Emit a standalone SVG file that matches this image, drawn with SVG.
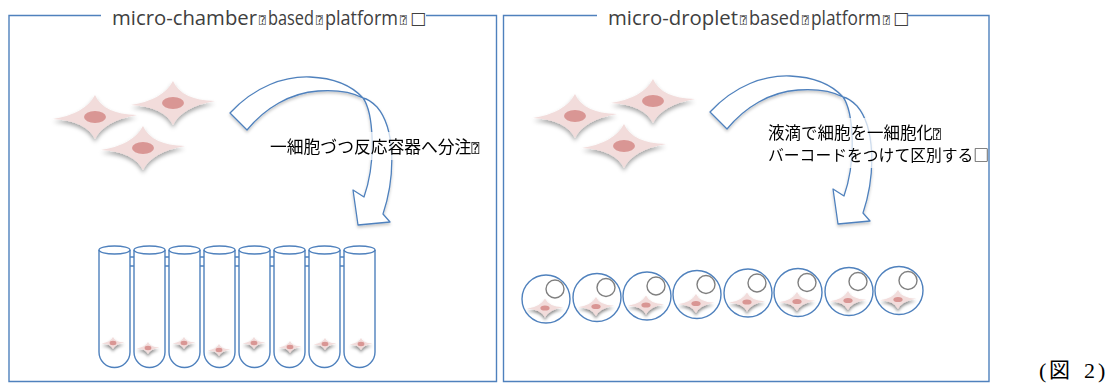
<svg xmlns="http://www.w3.org/2000/svg" xmlns:xlink="http://www.w3.org/1999/xlink" width="1119" height="385" viewBox="0 0 1119 385">
  <style>
    .frame { fill: none; stroke: #4f81bd; stroke-width: 1.4; }
    .title { font-family: "Open Sans", "DejaVu Sans", sans-serif; font-size: 20px; fill: #404040; }
    .q { font-family: "DejaVu Sans Mono", "DejaVu Sans", monospace; font-size: 11px; }
    .sq { font-family: "DejaVu Sans", sans-serif; font-size: 17px; }
    .jp { font-family: "Noto Sans CJK JP", sans-serif; fill: #000; }
    .qj { font-family: "DejaVu Sans Mono", "DejaVu Sans", monospace; font-size: 13px; fill: #000; }
    .blue { fill: none; stroke: #4f81bd; stroke-width: 1.4; }
    .arrow { fill: #fff; stroke: #4f81bd; stroke-width: 1.3; stroke-linejoin: round; }
    .bead { fill: none; stroke: #7f7f7f; stroke-width: 1.4; }
    .star { fill: #f2dcdb; }
    .nuc { fill: #d99694; }
    .txtbg { fill: #fff; opacity: 0.72; }
    .cap { font-size: 22px; fill: #000; }
  </style>
  <defs>
    <filter id="shL" x="-30%" y="-40%" width="160%" height="200%">
      <feDropShadow dx="0" dy="3" stdDeviation="2" flood-color="#000" flood-opacity="0.35"/>
    </filter>
    <filter id="shS" x="-40%" y="-60%" width="180%" height="260%">
      <feDropShadow dx="0" dy="2.5" stdDeviation="1.6" flood-color="#000" flood-opacity="0.45"/>
    </filter>
    <filter id="shA" x="-20%" y="-20%" width="140%" height="140%">
      <feDropShadow dx="0" dy="2" stdDeviation="1.5" flood-color="#000" flood-opacity="0.22"/>
    </filter>
    <!-- four-pointed cell body, 84 x 44 -->
    <path id="starBody" d="M-42,2 Q-10,-3 0,-22 Q8,-3 42,-2 Q9,4 0,22 Q-9,4 -42,2 Z"/>
    <g id="cellL">
      <g filter="url(#shL)"><use xlink:href="#starBody" class="star"/></g>
      <ellipse class="nuc" cx="0" cy="0" rx="11" ry="6"/>
    </g>
    <g id="cellM">
      <g filter="url(#shS)"><use xlink:href="#starBody" class="star" transform="scale(0.43)"/></g>
      <ellipse class="nuc" cx="0" cy="0" rx="4.6" ry="2.6"/>
    </g>
    <g id="cellS">
      <g filter="url(#shS)"><use xlink:href="#starBody" class="star" transform="scale(0.27)"/></g>
      <ellipse class="nuc" cx="0" cy="0" rx="3.4" ry="2.2"/>
    </g>
    <!-- curved arrow with the twisted shaft -->
    <path id="curvedArrow" class="arrow" d="M230,113 C255,86 285,76 310,77 C335,78 352,86 363,98 C373,112 377,160 364,197 L353,190 L358,225 L390,222 L383,214 C396,175 395,128 377,107 C372,102 368,99 363,98 C348,90 332,90 318,91 C290,93 265,108 247,130 Z"/>
    <!-- tube with rounded bottom, 31 wide -->
    <g id="tube">
      <path class="blue" d="M0,250 L0,352 A15.5,15.5 0 0 0 31,352 L31,250"/>
      <ellipse class="blue" cx="15.5" cy="250" rx="15.5" ry="4"/>
    </g>
    <g id="droplet">
      <circle class="blue" cx="0" cy="0" r="24"/>
      <circle class="bead" cx="9" cy="-10" r="9"/>
      <use xlink:href="#cellM" x="-1" y="9"/>
    </g>
  </defs>

  <!-- left panel -->
  <g id="panel-chamber">
    <path class="frame" d="M101,15.5 L9,15.5 L9,381.5 L496.5,381.5 L496.5,15.5 L426,15.5"/>
    <text class="title" y="25"><tspan x="112" textLength="145" lengthAdjust="spacingAndGlyphs">micro-chamber</tspan><tspan class="q" x="259" dy="-1">⍰</tspan><tspan x="268" dy="1" textLength="46" lengthAdjust="spacingAndGlyphs">based</tspan><tspan class="q" x="316" dy="-1">⍰</tspan><tspan x="325" dy="1" textLength="73" lengthAdjust="spacingAndGlyphs">platform</tspan><tspan class="q" x="400" dy="-1">⍰</tspan><tspan class="sq" x="410">□</tspan></text>
  </g>

  <!-- right panel -->
  <g id="panel-droplet">
    <path class="frame" d="M597,15.5 L503.5,15.5 L503.5,381.5 L989,381.5 L989,15.5 L908,15.5"/>
    <text class="title" y="25"><tspan x="608" textLength="130" lengthAdjust="spacingAndGlyphs">micro-droplet</tspan><tspan class="q" x="740" dy="-1">⍰</tspan><tspan x="749" dy="1" textLength="51" lengthAdjust="spacingAndGlyphs">based</tspan><tspan class="q" x="802" dy="-1">⍰</tspan><tspan x="811" dy="1" textLength="70" lengthAdjust="spacingAndGlyphs">platform</tspan><tspan class="q" x="883" dy="-1">⍰</tspan><tspan class="sq" x="893">□</tspan></text>
  </g>

  <!-- free cells -->
  <g id="cells-left">
    <use xlink:href="#cellL" x="95" y="117"/>
    <use xlink:href="#cellL" x="173" y="103"/>
    <use xlink:href="#cellL" x="143" y="148"/>
  </g>
  <g id="cells-right">
    <use xlink:href="#cellL" x="575" y="116"/>
    <use xlink:href="#cellL" x="653" y="101"/>
    <use xlink:href="#cellL" x="624" y="146"/>
  </g>

  <!-- connectors: curved arrows -->
  <g id="connectors">
    <g filter="url(#shA)">
      <use xlink:href="#curvedArrow"/>
      <use xlink:href="#curvedArrow" transform="translate(480,-1)"/>
    </g>
  </g>

  <!-- labels -->
  <g id="label-left">
    <rect class="txtbg" x="258" y="132" width="229" height="28"/>
    <text class="jp" x="270" y="153" font-size="16.8">一細胞づつ反応容器へ分注<tspan class="qj">⍰</tspan></text>
  </g>
  <g id="label-right">
    <rect class="txtbg" x="755" y="118" width="232" height="50"/>
    <text class="jp" x="768" y="139" font-size="16.5">液滴で細胞を一細胞化<tspan class="qj">⍰</tspan></text>
    <text class="jp" x="768" y="161" font-size="15.8">バーコードをつけて区別する□</text>
  </g>

  <!-- reaction tubes -->
  <g id="tubes">
    <g class="blue">
      <path d="M130,257 H134 M130,266 H134 M165,257 H169 M165,266 H169 M200,257 H204 M200,266 H204 M235,257 H239 M235,266 H239 M270,257 H274 M270,266 H274 M305,257 H309 M305,266 H309 M340,257 H344 M340,266 H344"/>
    </g>
    <use xlink:href="#tube" x="99"/>
    <use xlink:href="#tube" x="134"/>
    <use xlink:href="#tube" x="169"/>
    <use xlink:href="#tube" x="204"/>
    <use xlink:href="#tube" x="239"/>
    <use xlink:href="#tube" x="274"/>
    <use xlink:href="#tube" x="309"/>
    <use xlink:href="#tube" x="344"/>
    <use xlink:href="#cellS" x="113" y="343"/>
    <use xlink:href="#cellS" x="148" y="348"/>
    <use xlink:href="#cellS" x="184" y="343"/>
    <use xlink:href="#cellS" x="219" y="350"/>
    <use xlink:href="#cellS" x="254" y="343"/>
    <use xlink:href="#cellS" x="290" y="347"/>
    <use xlink:href="#cellS" x="325" y="344"/>
    <use xlink:href="#cellS" x="361" y="344"/>
  </g>

  <!-- droplets with barcode beads -->
  <g id="droplets">
    <use xlink:href="#droplet" x="546" y="299"/>
    <use xlink:href="#droplet" x="597" y="297.5"/>
    <use xlink:href="#droplet" x="647" y="296"/>
    <use xlink:href="#droplet" x="697" y="294.5"/>
    <use xlink:href="#droplet" x="748" y="293"/>
    <use xlink:href="#droplet" x="798" y="292.5"/>
    <use xlink:href="#droplet" x="849" y="291.5"/>
    <use xlink:href="#droplet" x="899" y="290.5"/>
  </g>

  <!-- figure number -->
  <g id="caption">
    <text class="cap" y="378" font-family="Liberation Serif, serif"><tspan x="1039">(</tspan><tspan x="1049" dy="-1" font-family="Noto Sans CJK JP, sans-serif" font-size="21">図</tspan><tspan x="1084" dy="1">2</tspan><tspan x="1098">)</tspan></text>
  </g>
</svg>
